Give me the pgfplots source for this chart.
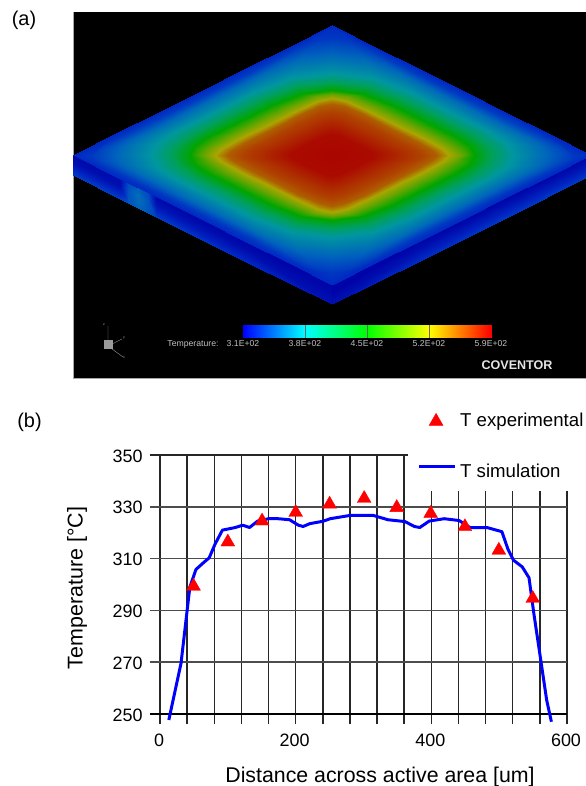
\documentclass[border=0pt]{standalone}
\usepackage{pgfplots}
\usepackage{pgfplotstable}
\usepackage{fontspec}
\setmainfont{Liberation Sans}
\pgfplotsset{compat=1.18}
\pgfplotsset{colormap={scene}{rgb255=(0,0,165) rgb255=(0,40,195) rgb255=(0,95,190) rgb255=(0,150,160) rgb255=(0,160,90) rgb255=(0,165,0) rgb255=(170,165,0) rgb255=(175,65,0) rgb255=(170,5,0)}}
\pgfplotsset{colormap={bar}{rgb255=(0,0,255) rgb255=(0,255,255) rgb255=(0,255,0) rgb255=(255,255,0) rgb255=(255,0,0)}}
\pgfplotstableread{
X Y c
0 1 1
.1667 .8333 1
.3333 .6667 1
.5 .5 1
.6667 .3333 1
.8333 .1667 1
1 0 1
0 .90 1.3
.06 .885 1.3
.12 .84 1.3
.48 .48 1.3
.90 .06 1.3
.9225 .03 1.3
.93 0 1.3
0 .76 2.2
.13 .7275 2.2
.26 .63 2.2
.445 .445 2.2
.75 .14 2.2
.8025 .07 2.2
.82 0 2.2
0 .63 3
.16 .59 3
.32 .47 3
.395 .395 3
.61 .18 3
.6775 .09 3
.70 0 3
0 .565 4
.135 .531 4
.27 .43 4
.35 .35 4
.54 .16 4
.60 .08 4
.62 0 4
0 .50 5
.12 .47 5
.24 .38 5
.31 .31 5
.48 .14 5
.5325 .07 5
.55 0 5
0 .47 5.6
.06 .455 5.6
.16 .38 5.6
.27 .27 5.6
.41 .13 5.6
.475 .05 5.6
.50 0 5.6
0 .44 6
.055 .415 6
.14 .34 6
.24 .24 6
.36 .12 6
.4275 .045 6
.45 0 6
0 .395 6.7
.05 .373 6.7
.126 .306 6.7
.216 .216 6.7
.324 .108 6.7
.385 .04 6.7
.405 0 6.7
0 .29 7.2
.04 .28 7.2
.09 .23 7.2
.165 .165 7.2
.25 .07 7.2
.2925 .03 7.2
.30 0 7.2
0 .16 7.9
.02 .155 7.9
.04 .14 7.9
.09 .09 7.9
.14 .04 7.9
.155 .02 7.9
.16 0 7.9
0 0 8
0 0 8
0 0 8
0 0 8
0 0 8
0 0 8
0 0 8
}\ringtable
\pgfplotstableread{
x y c
73 155 .2
120 178.6 .3
128 182.6 1.6
138 187.6 2
148 192.6 1.6
156 196.7 .2
250 243.9 .1
332 285 .1
73 163 .4
120 186.6 .4
128 190.6 1.8
138 195.6 2.3
148 200.6 1.8
156 204.7 .5
250 251.9 .3
332 293 .2
73 175 1.4
120 198.6 1.4
128 202.6 1.8
138 207.6 2.1
148 212.6 1.8
156 216.7 1.4
250 263.9 1
332 304 .4
}\leftface
\pgfplotstableread{
x y c
332 285 .1
420 240.8 .1
500 200.7 .1
591 155 .1
332 293 .1
420 248.8 .4
500 208.7 .5
591 163 .5
332 304 .4
420 260.8 1.1
500 220.7 1.3
591 175 1.3
}\rightface
\pgfplotstableread{
x y c
243 325 0
305 325 1
367 325 2
429 325 3
491 325 4
243 338 0
305 338 1
367 338 2
429 338 3
491 338 4
}\bartable
\pgfplotstableread{
x T
13 247.7
31 269.6
40 290
44 299
53 305.8
64 308.4
72.5 310.3
81 315.5
92 321
111 322
122 322.9
132 322
144 324.5
160 325.4
174 325.4
191 325
204 322.9
211 322.4
221 323.5
240 324.4
251 325.4
281 326.7
314 326.7
336 325
361 324.3
375 322.4
383 322
397 324.5
419 325.4
441 324.7
457 322
482 322
504 320.4
513 313.6
521 309.4
534 306.8
544 302.6
551 289
562 269.6
570 255.4
577 247
}\simtable
\pgfplotstableread{
x T
49.5 299.3
100 316.4
150.5 324.5
200 327.8
250 331
301 333.2
349 329.7
399 327.4
449.5 322.3
499.5 313.2
549.5 294.6
}\exptable
\begin{document}
\begin{tikzpicture}[x=1bp,y=1bp]
\useasboundingbox (0,0) rectangle (586,786);
\fill[black] (73,408) rectangle (586,774);
\draw[gray!70,line width=.5pt] (73,774) -- (73,408) -- (586,408);
% panel (a) field
\begin{axis}[at={(0,0)},anchor=south west,scale only axis,width=586bp,height=786bp,
  xmin=0,xmax=586,ymin=0,ymax=786,hide axis,view={0}{90},colormap name=scene,
  point meta min=0,point meta max=8]
\addplot3[surf,shader=interp,mesh/cols=8] table[x=x,y expr=786-\thisrow{y},z=c]{\leftface};
\addplot3[surf,shader=interp,mesh/cols=4] table[x=x,y expr=786-\thisrow{y},z=c]{\rightface};
\addplot3[surf,shader=interp,mesh/cols=7] table[x expr=332+259*\thisrow{X},y expr=631+130*\thisrow{Y},z=c]{\ringtable};
\addplot3[surf,shader=interp,mesh/cols=7] table[x expr=332-259*\thisrow{X},y expr=631+130*\thisrow{Y},z=c]{\ringtable};
\addplot3[surf,shader=interp,mesh/cols=7] table[x expr=332+259*\thisrow{X},y expr=631-130*\thisrow{Y},z=c]{\ringtable};
\addplot3[surf,shader=interp,mesh/cols=7] table[x expr=332-259*\thisrow{X},y expr=631-130*\thisrow{Y},z=c]{\ringtable};
\end{axis}
% colour bar
\begin{axis}[at={(0,0)},anchor=south west,scale only axis,width=586bp,height=786bp,
  xmin=0,xmax=586,ymin=0,ymax=786,hide axis,view={0}{90},colormap name=bar,
  point meta min=0,point meta max=4]
\addplot3[surf,shader=interp,mesh/cols=5] table[x=x,y expr=786-\thisrow{y},z=c]{\bartable};
\end{axis}
\foreach \px in {305,367,429}{\draw[black!60,line width=.4pt] (\px,448) -- (\px,461);}
\node[text=black!25,font=\fontsize{8.7}{10}\selectfont,anchor=center] at (193,442) {Temperature:};
\foreach \px/\lab in {243/3.1E+02,305/3.8E+02,367/4.5E+02,429/5.2E+02,491/5.9E+02}
  {\node[text=black!25,font=\fontsize{8.7}{10}\selectfont,anchor=center] at (\px,442) {\lab};}
\node[text=black!10,font=\fontsize{12.6}{14}\bfseries\selectfont,anchor=center] at (517,421) {COVENTOR};
\draw[gray!80,line width=.4pt] (108,440)--(108,460) (108,440)--(122,447) (108,440)--(123,429);
\fill[gray!80] (104,437) rectangle (113,446);
\node[text=gray!70,font=\fontsize{3.5}{4}\selectfont] at (104,461) {z};
\node[text=gray!70,font=\fontsize{3.5}{4}\selectfont] at (124,448) {y};
\node[text=gray!70,font=\fontsize{3.5}{4}\selectfont] at (124,428) {x};
\node[font=\fontsize{20}{22}\selectfont,anchor=center] at (24,766) {(a)};
\node[font=\fontsize{20}{22}\selectfont,anchor=center] at (29.5,364) {(b)};
% panel (b)
\begin{axis}[at={(160bp,72bp)},anchor=south west,scale only axis,width=407bp,height=259bp,
  xmin=0,xmax=600,ymin=250,ymax=350,clip=false,axis line style={draw=none},
  xtick={0,200,400,600},ytick={250,270,290,310,330,350},major tick length=0pt,
  /pgf/number format/assume math mode=true,
  tick label style={font=\fontsize{18}{20}\selectfont},
  xticklabel style={yshift=-16bp,xshift=-1bp},
  yticklabel style={xshift=-14bp,yshift=-1bp}]
\foreach \v in {0,40,80,120,160,200,240,280,320,360}{
  \edef\temp{\noexpand\addplot[black!85,line width=1.5pt,forget plot] coordinates {(\v,246) (\v,350)};}\temp}
\foreach \v in {400,440,480,520,560,600}{
  \edef\temp{\noexpand\addplot[black!85,line width=1.5pt,forget plot] coordinates {(\v,246) (\v,336)};}\temp}
\addplot[black!85,line width=1.5pt,forget plot] coordinates {(-15,350) (365,350)};
\foreach \h in {270,290,310,330}{
  \edef\temp{\noexpand\addplot[black!70,line width=1.5pt,forget plot] coordinates {(-15,\h) (600,\h)};}\temp}
\addplot[black,line width=1.5pt,forget plot] coordinates {(-15,250) (600,250)};
\addplot[blue,line width=3pt,line join=round] table[x=x,y=T]{\simtable};
\addplot[only marks,mark=triangle*,mark size=8pt,red,mark options={fill=red,draw=red}] table[x=x,y=T]{\exptable};
\addplot[only marks,mark=triangle*,mark size=8pt,red,mark options={fill=red,draw=red},forget plot] coordinates {(407,363)};
\addplot[blue,line width=3pt,forget plot] coordinates {(382,345.4) (435,345.4)};
\end{axis}
\node[font=\fontsize{18.7}{20}\selectfont,anchor=west,inner xsep=0pt] at (460,364) {T experimental};
\node[font=\fontsize{18.7}{20}\selectfont,anchor=west,inner xsep=0pt] at (460,315.5) {T simulation};
\node[font=\fontsize{21.5}{24}\selectfont,rotate=90,anchor=center] at (77,198) {Temperature [°C]};
\node[font=\fontsize{21.4}{24}\selectfont,anchor=center] at (380,9) {Distance across active area [um]};
\end{tikzpicture}
\end{document}
